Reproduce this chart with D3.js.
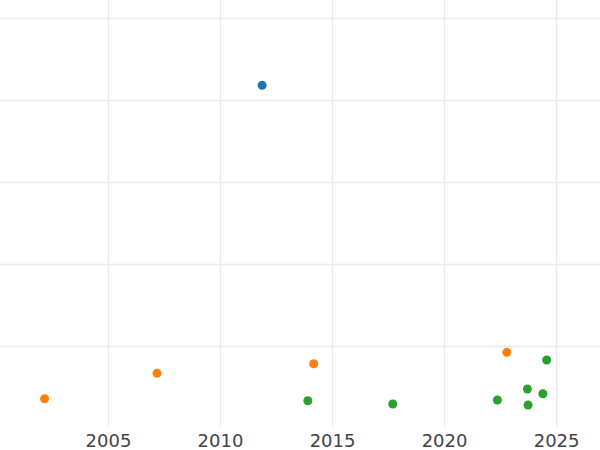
<!DOCTYPE html>
<html><head><meta charset="utf-8">
<script src="https://cdn.jsdelivr.net/npm/d3@7"></script>
<style>html,body{margin:0;padding:0;background:#fff;}svg{display:block;}</style>
</head><body>
<svg id="chart" width="600" height="450"></svg>
<script>
// Data (y in arbitrary units; y-axis labels lie outside the view)
const seriesNames = ["A", "B", "C"];
const seriesColors = ["#1f77b4", "#ff7f0e", "#2ca02c"];
const seriesA_x = [2011.88];
const seriesA_y = [418];
const seriesB_x = [2002.17, 2007.19, 2014.18, 2022.80];
const seriesB_y = [35.7, 66.7, 78.4, 92.3];
const seriesC_x = [2013.92, 2017.71, 2022.38, 2023.72, 2023.75, 2024.41, 2024.58];
const seriesC_y = [33.3, 29.3, 34.1, 47.6, 28.0, 41.8, 82.9];
const xTicks = [2005, 2010, 2015, 2020, 2025];
const yTicks = [100, 200, 300, 400, 500];

const W = 600, H = 450;
const plot = {left: 0, right: 600, top: 0, bottom: 427};
const x = d3.scaleLinear().domain([2000.18, 2026.96]).range([plot.left, plot.right]);
const y = d3.scaleLinear().domain([0, 100]).range([428, 346]);

const svg = d3.select("#chart");

// gridlines
const gx = svg.append("g").attr("transform", `translate(0,${plot.bottom})`)
  .call(d3.axisBottom(x).tickValues(xTicks).tickSize(-plot.bottom).tickFormat(d3.format("d")));
gx.select(".domain").remove();
gx.selectAll(".tick line").attr("stroke", "#ebebeb").attr("stroke-width", 1.5);
gx.selectAll(".tick text").attr("fill", "#444").attr("font-family", "DejaVu Sans, sans-serif")
  .attr("font-size", 18).attr("dy", "0.71em").attr("y", 7.5);

const gy = svg.append("g").attr("transform", `translate(${plot.left},0)`)
  .call(d3.axisLeft(y).tickValues(yTicks).tickSize(-(plot.right - plot.left)).tickFormat(""));
gy.select(".domain").remove();
gy.selectAll(".tick line").attr("stroke", "#ebebeb").attr("stroke-width", 1.5);

// points
const series = [
  {xs: seriesA_x, ys: seriesA_y},
  {xs: seriesB_x, ys: seriesB_y},
  {xs: seriesC_x, ys: seriesC_y}
];
series.forEach((s, i) => {
  const pts = s.xs.map((v, j) => ({x: v, y: s.ys[j]}));
  svg.append("g").attr("class", "series-" + seriesNames[i])
    .selectAll("circle").data(pts).join("circle")
    .attr("cx", d => x(d.x)).attr("cy", d => y(d.y))
    .attr("r", 4.5).attr("fill", seriesColors[i]);
});
</script>
</body></html>
